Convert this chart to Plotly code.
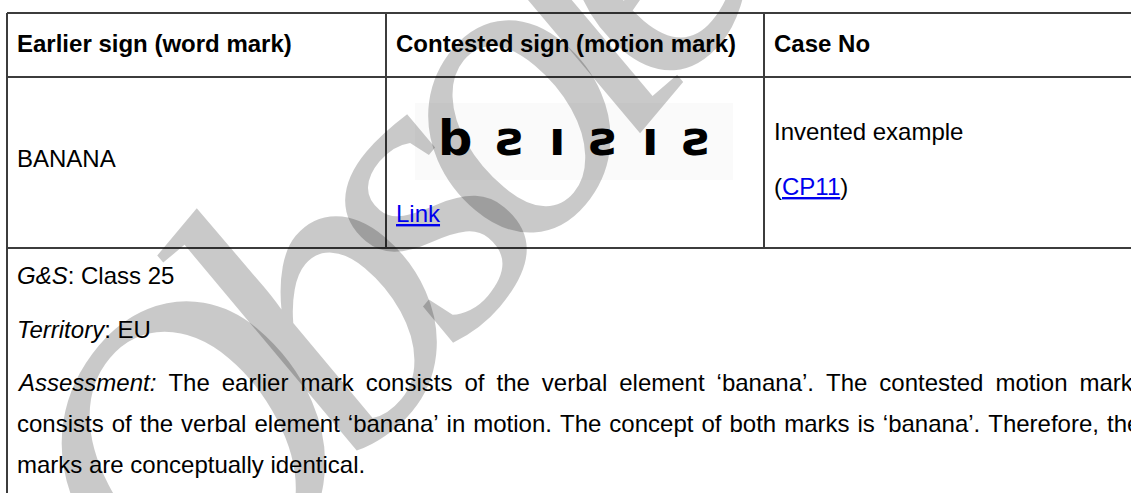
import plotly.graph_objects as go

W, H = 1131, 493

# ---- table content ----
headers = ["Earlier sign (word mark)", "Contested sign (motion mark)", "Case No"]
earlier_sign = "BANANA"
motion_glyphs = ["b", "\u01a8", "\u0131", "\u01a8", "\u0131", "\u01a8"]
link_text = "Link"
case_text = "Invented example"
case_ref = "CP11"
gs_label, gs_value = "G&amp;S", "Class 25"
terr_label, terr_value = "Territory", "EU"
assess_label = "Assessment:"
assess_lines = [
    ["The", "earlier", "mark", "consists", "of", "the", "verbal", "element",
     "\u2018banana\u2019.", "The", "contested", "motion", "mark"],
    ["consists", "of", "the", "verbal", "element", "\u2018banana\u2019", "in", "motion.",
     "The", "concept", "of", "both", "marks", "is", "\u2018banana\u2019.", "Therefore,", "the"],
    ["marks", "are", "conceptually", "identical."],
]
watermark = "Obsolete"

# ---- layout geometry (pixels) ----
col_x = [7, 386, 764, W + 20]
row_y = [13, 77, 248, H + 20]
pad = 9
FS = 24
FONT = "Liberation Sans, Arial, sans-serif"
LINE_COLOR = "#3c3c3c"


def mid(baseline, size=FS):
    return baseline - 0.345 * size


fig = go.Figure()
fig.add_trace(go.Scatter(x=[0, W], y=[0, H], mode="markers",
                         marker=dict(opacity=0), hoverinfo="skip", showlegend=False))

shapes = []
# motion mark image background
shapes.append(dict(type="rect", xref="x", yref="y", x0=415, x1=733, y0=103, y1=180,
                   fillcolor="#fafafa", line=dict(width=0), layer="below"))
# horizontal lines
for y in row_y[:3]:
    shapes.append(dict(type="line", xref="x", yref="y", x0=col_x[0], x1=col_x[3], y0=y, y1=y,
                       line=dict(color=LINE_COLOR, width=2), layer="above"))
# vertical lines
shapes.append(dict(type="line", xref="x", yref="y", x0=col_x[0], x1=col_x[0], y0=row_y[0], y1=row_y[3],
                   line=dict(color=LINE_COLOR, width=2), layer="above"))
for x in col_x[1:3]:
    shapes.append(dict(type="line", xref="x", yref="y", x0=x, x1=x, y0=row_y[0], y1=row_y[2],
                       line=dict(color=LINE_COLOR, width=2), layer="above"))

ann = []

# watermark (drawn first, translucent)
ann.append(dict(x=442 / W, y=1 - 150 / H, xref="paper", yref="paper",
                text='<span style="letter-spacing:-55px"><i>' + watermark + "</i></span>",
                showarrow=False, xanchor="center", yanchor="middle", textangle=-50,
                font=dict(family="Liberation Serif, serif", size=420, color="rgba(0,0,0,0.21)")))


def txt(x, baseline, text, size=FS, color="#000000", family=FONT):
    ann.append(dict(x=x, y=mid(baseline, size), xref="x", yref="y", text=text, showarrow=False,
                    xanchor="left", yanchor="middle", borderpad=0,
                    font=dict(family=family, size=size, color=color)))


# header
for i, h in enumerate(headers):
    txt(col_x[i] + pad, 52, "<b>" + h + "</b>")

# row 1
txt(col_x[0] + pad, 167, earlier_sign)
ann.append(dict(x=(415 + 733) / 2, y=138, xref="x", yref="y",
                text="<b>" + "\u2002".join(motion_glyphs) + "</b>", showarrow=False,
                xanchor="center", yanchor="middle",
                font=dict(family="DejaVu Sans", size=48, color="#000000")))
txt(col_x[1] + pad, 222, '<span style="text-decoration:underline">' + link_text + "</span>",
    color="#0000ee")
txt(col_x[2] + pad, 140, case_text)
txt(col_x[2] + pad, 195, '(<span style="text-decoration:underline;fill:#0000ee">' + case_ref + "</span>)")

# row 2
txt(col_x[0] + pad, 284, "<i>" + gs_label + "</i>: " + gs_value)
txt(col_x[0] + pad, 338, "<i>" + terr_label + "</i>: " + terr_value)
line_base = [391, 432, 473]
gaps = ["\u2002", "\u2004", " "]
for k, words in enumerate(assess_lines):
    s = gaps[k].join(words)
    if k == 0:
        s = "<i>" + assess_label + "</i>" + gaps[k] + s
    txt(col_x[0] + pad, line_base[k], s)

fig.update_layout(
    width=W, height=H, margin=dict(l=0, r=0, t=0, b=0),
    paper_bgcolor="white", plot_bgcolor="white",
    xaxis=dict(range=[0, W], visible=False, fixedrange=True),
    yaxis=dict(range=[H, 0], visible=False, fixedrange=True),
    shapes=shapes, annotations=ann, showlegend=False,
)

fig.write_html("out.html", config={"displayModeBar": False},
               post_script="document.body.style.margin='0';document.body.style.overflow='hidden';")
